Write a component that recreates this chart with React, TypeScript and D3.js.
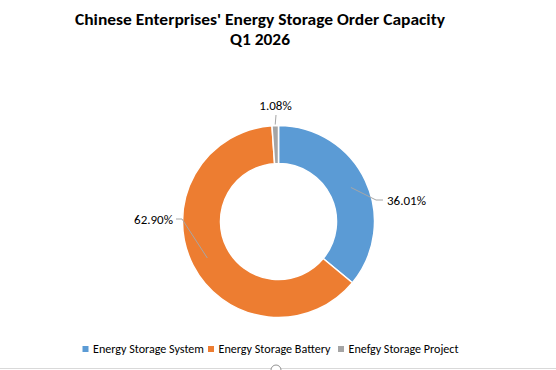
import React from "react";
import * as d3 from "d3";

const categories = ["Energy Storage System", "Energy Storage Battery", "Enefgy Storage Project"];
const values = [36.01, 62.9, 1.08];
const labels = ["36.01%", "62.90%", "1.08%"];
const colors = ["#5B9BD5", "#ED7D31", "#A5A5A5"];
const titleLines = ["Chinese Enterprises' Energy Storage Order Capacity", "Q1 2026"];

const W = 556;
const H = 370;
const cx = 278.5;
const cy = 221.5;
const rOuter = 96;
const rInner = 58;

const labelLayout = [
  { elbow: [376, 200], end: [383, 200], text: [387, 200], anchor: "start" },
  { elbow: [182, 219], end: [176, 219], text: [173, 219], anchor: "end" },
  { elbow: [276, 115], end: [276, 115], text: [275.5, 105], anchor: "middle" },
];

export default function App() {
  const pie = d3.pie<number>().sort(null).value((d) => d).startAngle(0).endAngle(2 * Math.PI);
  const arcs = pie(values);
  const arcGen = d3.arc<d3.PieArcDatum<number>>().innerRadius(rInner).outerRadius(rOuter);
  const fontFam = "Carlito, Calibri, 'Open Sans', 'Liberation Sans', sans-serif";

  const legendX = [82.5, 208, 338];
  const legendTextW = [111, 112, 110];

  return (
    <svg width={W} height={H} style={{ position: "absolute", left: 0, top: 0 }} fontFamily={fontFam}>
      <rect x={0} y={0} width={W} height={H} fill="#ffffff" />
      <text x={260} y={25} textAnchor="middle" fontSize={15} fontWeight="bold" fill="#000" textLength={370} lengthAdjust="spacingAndGlyphs">
        {titleLines[0]}
      </text>
      <text x={260} y={45} textAnchor="middle" fontSize={15} fontWeight="bold" fill="#000" textLength={60} lengthAdjust="spacingAndGlyphs">
        {titleLines[1]}
      </text>
      <g transform={`translate(${cx},${cy})`}>
        {arcs.map((a, i) => (
          <path key={i} d={arcGen(a) || ""} fill={colors[i]} stroke="#ffffff" strokeWidth={1.5} />
        ))}
      </g>
      {arcs.map((a, i) => {
        const L = labelLayout[i];
        const mid = (a.startAngle + a.endAngle) / 2;
        const r0 = i === 2 ? rOuter + 1 : rInner + (rOuter - rInner) * 0.5 + 3;
        const sx = cx + Math.sin(mid) * r0;
        const sy = cy - Math.cos(mid) * r0;
        const pts =
          i === 2
            ? `${sx},${sy} ${L.elbow[0]},${L.elbow[1]}`
            : `${sx},${sy} ${L.elbow[0]},${L.elbow[1]} ${L.end[0]},${L.end[1]}`;
        return (
          <g key={i}>
            <polyline points={pts} fill="none" stroke="#A6A6A6" strokeWidth={1} />
            <text x={L.text[0]} y={L.text[1]} dy="0.35em" textAnchor={L.anchor as any} fontSize={13} fill="#000">
              {labels[i]}
            </text>
          </g>
        );
      })}
      {categories.map((c, i) => (
        <g key={c}>
          <rect x={legendX[i]} y={346} width={6} height={6} fill={colors[i]} />
          <text x={legendX[i] + 10.5} y={349} dy="0.35em" fontSize={12} fill="#000" textLength={legendTextW[i]} lengthAdjust="spacingAndGlyphs">
            {c}
          </text>
        </g>
      ))}
      <line x1={0} x2={W} y1={368.5} y2={368.5} stroke="#D9D9D9" strokeWidth={1} />
      <circle cx={276} cy={370} r={5} fill="#fff" stroke="#777" strokeWidth={0.8} />
    </svg>
  );
}
